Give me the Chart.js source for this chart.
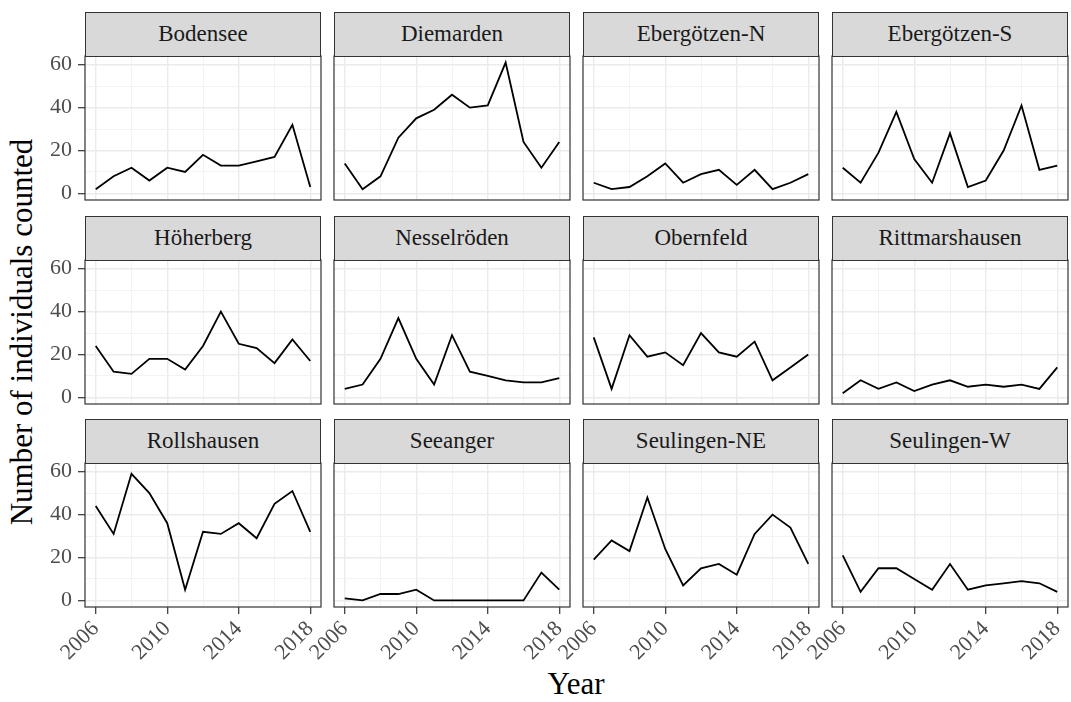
<!DOCTYPE html>
<html>
<head>
<meta charset="utf-8">
<script src="https://cdn.jsdelivr.net/npm/chart.js@4.4.1/dist/chart.umd.min.js"></script>
<style>
  body { margin: 0; background: #fff; }
  #wrap { position: relative; width: 1071px; height: 702px; overflow: hidden;
          font-family: 'Liberation Serif', 'Times New Roman', 'DejaVu Serif', serif; }
  .strip { position: absolute; box-sizing: border-box; border: 1px solid #333; background: #d9d9d9;
           color: #1a1a1a; font-size: 23px; text-align: center; line-height: 42px; }
  .panel { position: absolute; }
  .title { position: absolute; font-size: 31px; color: #000; white-space: nowrap; }
</style>
</head>
<body>
<div id="wrap">
  <div class="title" style="left:22px; top:332px; transform: translate(-50%,-50%) rotate(-90deg);">Number of individuals counted</div>
  <div class="title" style="left:576px; top:684px; transform: translate(-50%,-50%);">Year</div>
</div>
<script>
const years = [2006, 2007, 2008, 2009, 2010, 2011, 2012, 2013, 2014, 2015, 2016, 2017, 2018];
const xBreaks = [2006, 2010, 2014, 2018];
const xGrid = [2006, 2008, 2010, 2012, 2014, 2016, 2018];
const yBreaks = [0, 20, 40, 60];
const yGrid = [0, 10, 20, 30, 40, 50, 60];

const sites = ['Bodensee', 'Diemarden', 'Ebergötzen-N', 'Ebergötzen-S',
               'Höherberg', 'Nesselröden', 'Obernfeld', 'Rittmarshausen',
               'Rollshausen', 'Seeanger', 'Seulingen-NE', 'Seulingen-W'];

const bodensee      = [2, 8, 12, 6, 12, 10, 18, 13, 13, 15, 17, 32, 3];
const diemarden     = [14, 2, 8, 26, 35, 39, 46, 40, 41, 61, 24, 12, 24];
const ebergoetzenN  = [5, 2, 3, 8, 14, 5, 9, 11, 4, 11, 2, 5, 9];
const ebergoetzenS  = [12, 5, 19, 38, 16, 5, 28, 3, 6, 20, 41, 11, 13];
const hoeherberg    = [24, 12, 11, 18, 18, 13, 24, 40, 25, 23, 16, 27, 17];
const nesselroeden  = [4, 6, 18, 37, 18, 6, 29, 12, 10, 8, 7, 7, 9];
const obernfeld     = [28, 4, 29, 19, 21, 15, 30, 21, 19, 26, 8, 14, 20];
const rittmarshausen = [2, 8, 4, 7, 3, 6, 8, 5, 6, 5, 6, 4, 14];
const rollshausen   = [44, 31, 59, 50, 36, 5, 32, 31, 36, 29, 45, 51, 32];
const seeanger      = [1, 0, 3, 3, 5, 0, 0, 0, 0, 0, 0, 13, 5];
const seulingenNE   = [19, 28, 23, 48, 24, 7, 15, 17, 12, 31, 40, 34, 17];
const seulingenW    = [21, 4, 15, 15, 10, 5, 17, 5, 7, 8, 9, 8, 4];

const counts = [bodensee, diemarden, ebergoetzenN, ebergoetzenS,
                hoeherberg, nesselroeden, obernfeld, rittmarshausen,
                rollshausen, seeanger, seulingenNE, seulingenW];

Chart.defaults.font.family = "'Liberation Serif', 'Times New Roman', 'DejaVu Serif', serif";

const colLeft = [85, 334, 583, 832];
const stripTop = [12, 216, 419];
const stripH = 44;
const plotW = 236;
const plotH = 144;
const axisW = 85;
const axisH = 80;
const padTop = 30;
const padRight = 12;

const panelBorder = {
  id: 'panelBorder',
  afterDraw(chart) {
    const a = chart.chartArea;
    const c = chart.ctx;
    c.save();
    c.strokeStyle = '#333';
    c.lineWidth = 1.2;
    c.strokeRect(a.left, a.top, a.right - a.left, a.bottom - a.top);
    c.restore();
  }
};

const wrap = document.getElementById('wrap');

sites.forEach((site, i) => {
  const row = Math.floor(i / 4);
  const col = i % 4;
  const showY = col === 0;
  const showX = row === 2;

  const holder = document.createElement('div');
  holder.className = 'panel';
  holder.style.left = (colLeft[col] - axisW) + 'px';
  holder.style.top = (stripTop[row] + stripH - padTop) + 'px';
  const canvas = document.createElement('canvas');
  canvas.width = axisW + plotW + padRight;
  canvas.height = padTop + plotH + axisH;
  holder.appendChild(canvas);
  wrap.appendChild(holder);

  const strip = document.createElement('div');
  strip.className = 'strip';
  strip.style.left = colLeft[col] + 'px';
  strip.style.top = stripTop[row] + 'px';
  strip.style.width = plotW + 'px';
  strip.style.height = (stripH + 1) + 'px';
  strip.textContent = site;
  wrap.appendChild(strip);

  new Chart(canvas, {
    type: 'line',
    data: {
      datasets: [{
        data: years.map((y, k) => ({ x: y, y: counts[i][k] })),
        borderColor: '#000',
        borderWidth: 1.8,
        pointRadius: 0,
        tension: 0,
        fill: false
      }]
    },
    options: {
      responsive: false,
      animation: false,
      layout: { padding: { left: 0, top: padTop, right: padRight, bottom: 0 } },
      plugins: { legend: { display: false }, tooltip: { enabled: false } },
      scales: {
        x: {
          type: 'linear',
          min: 2005.4,
          max: 2018.6,
          afterBuildTicks: s => { s.ticks = xGrid.map(v => ({ value: v })); },
          afterFit: s => { s.height = axisH; },
          border: { display: false },
          grid: {
            drawTicks: showX,
            tickLength: 7,
            color: ctx => xBreaks.includes(ctx.tick && ctx.tick.value) ? '#ebebeb' : '#f2f2f2',
            lineWidth: ctx => xBreaks.includes(ctx.tick && ctx.tick.value) ? 1.4 : 0.9,
            tickColor: ctx => xBreaks.includes(ctx.tick && ctx.tick.value) ? '#333' : 'rgba(0,0,0,0)',
            tickWidth: 1.2
          },
          ticks: {
            display: showX,
            autoSkip: false,
            minRotation: 45,
            maxRotation: 45,
            padding: 2,
            color: '#4d4d4d',
            font: { size: 22 },
            callback: v => xBreaks.includes(v) ? String(v) : ''
          }
        },
        y: {
          min: -3.05,
          max: 64.05,
          afterBuildTicks: s => { s.ticks = yGrid.map(v => ({ value: v })); },
          afterFit: s => { s.width = axisW; },
          border: { display: false },
          grid: {
            drawTicks: showY,
            tickLength: 7,
            color: ctx => yBreaks.includes(ctx.tick && ctx.tick.value) ? '#ebebeb' : '#f2f2f2',
            lineWidth: ctx => yBreaks.includes(ctx.tick && ctx.tick.value) ? 1.4 : 0.9,
            tickColor: ctx => yBreaks.includes(ctx.tick && ctx.tick.value) ? '#333' : 'rgba(0,0,0,0)',
            tickWidth: 1.2
          },
          ticks: {
            display: showY,
            autoSkip: false,
            padding: 6,
            color: '#4d4d4d',
            font: { size: 22 },
            callback: v => yBreaks.includes(v) ? String(v) : ''
          }
        }
      }
    },
    plugins: [panelBorder]
  });
});
</script>
</body>
</html>
